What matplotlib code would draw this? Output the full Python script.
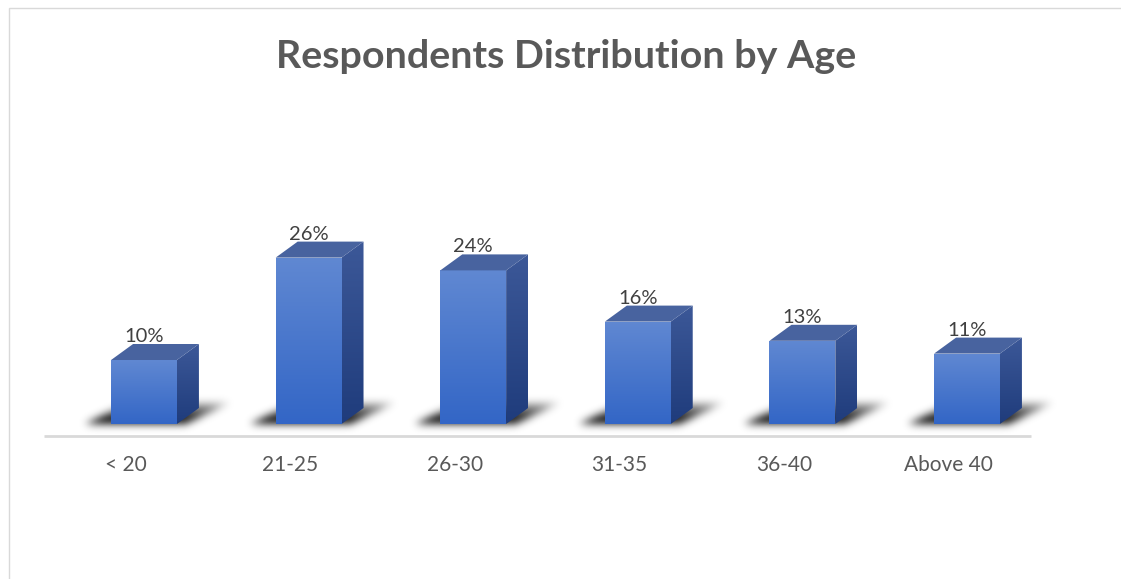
import matplotlib
matplotlib.use('Agg')
import matplotlib.pyplot as plt
import numpy as np
from matplotlib.patches import Polygon, Rectangle

plt.rcParams['font.family'] = ['Lato', 'DejaVu Sans']

# ── data ────────────────────────────────────────────────
CATS   = ["< 20", "21-25", "26-30", "31-35", "36-40", "Above 40"]
VALUES = [10, 26, 24, 16, 13, 11]
LABELS = [f"{v}%" for v in VALUES]

W, H, DPI = 1121, 579, 100
fig = plt.figure(figsize=(W / DPI, H / DPI), dpi=DPI)

# axes placed so one category = ~164.6 px, 1% = ~6.4 px
XLIM = (-0.8, 5.6)
YLIM = (-8, 30)
PX_X = 164.6
PX_Y = 6.4
left_px = 144 + XLIM[0] * PX_X
right_px = 144 + XLIM[1] * PX_X
bot_px = 424 - YLIM[0] * PX_Y
top_px = 424 - YLIM[1] * PX_Y
ax = fig.add_axes([left_px / W, 1 - bot_px / H,
                   (right_px - left_px) / W, (bot_px - top_px) / H])
ax.set_xlim(*XLIM)
ax.set_ylim(*YLIM)
ax.axis('off')

bw = 0.40                 # front face width
dx = 22 / PX_X            # depth offset (x)
dy = 16 / PX_Y            # depth offset (y)


def gauss_blur(a, sigma):
    r = int(3 * sigma)
    k = np.exp(-0.5 * (np.arange(-r, r + 1) / sigma) ** 2)
    k /= k.sum()
    a = np.apply_along_axis(lambda m: np.convolve(m, k, mode='same'), 0, a)
    a = np.apply_along_axis(lambda m: np.convolve(m, k, mode='same'), 1, a)
    return a


def grad_fill(poly, c_top, c_bot, y0, y1):
    ax.add_patch(poly)
    poly.set_visible(False)
    g = np.linspace(0, 1, 128)[:, None, None]
    c_top = np.array(matplotlib.colors.to_rgb(c_top))
    c_bot = np.array(matplotlib.colors.to_rgb(c_bot))
    img = c_top[None, None, :] * (1 - g) + c_bot[None, None, :] * g
    xs = poly.get_xy()[:, 0]
    im = ax.imshow(img, extent=(xs.min(), xs.max(), y0, y1), origin='upper',
                   aspect='auto', zorder=3, interpolation='bilinear')
    im.set_clip_path(poly)


def floor_shadow(x0, x1):
    # blurred skewed footprint on the floor, in pixel-sized cells
    sx0, sx1 = x0 - 0.35, x1 + 0.6
    sy0, sy1 = -1.5, 5.5
    nx = int((sx1 - sx0) * PX_X)
    ny = int((sy1 - sy0) * PX_Y)
    xs = np.linspace(sx0, sx1, nx)
    ys = np.linspace(sy1, sy0, ny)
    X, Y = np.meshgrid(xs, ys)
    h = 3.5
    t = Y / h
    lo = x0 - 0.16 + 0.28 * t
    hi = x1 + 0.05 + 0.28 * t
    inside = (t >= 0) & (t <= 1) & (X >= lo) & (X <= hi)
    a = np.where(inside, 1.0 * (1 - t) ** 0.6, 0.0)
    a = gauss_blur(a, 4)
    rgba = np.zeros((ny, nx, 4))
    rgba[..., 3] = np.clip(a * 1.1, 0, 0.95)
    ax.imshow(rgba, extent=(sx0, sx1, sy0, sy1), origin='upper',
              aspect='auto', zorder=2, interpolation='bilinear')


for i, v in enumerate(VALUES):
    x0, x1 = i - bw / 2, i + bw / 2
    floor_shadow(x0, x1)
    # front face
    front = Polygon([(x0, 0), (x1, 0), (x1, v), (x0, v)], closed=True)
    grad_fill(front, '#6088D2', '#3366C6', 0, v)
    # side face
    side = Polygon([(x1, 0), (x1 + dx, dy), (x1 + dx, v + dy), (x1, v)], closed=True)
    grad_fill(side, '#3C5898', '#1F3C7C', 0, v + dy)
    # top face
    top = Polygon([(x0, v), (x1, v), (x1 + dx, v + dy), (x0 + dx, v + dy)],
                  closed=True, facecolor='#48639F', edgecolor='none', zorder=4)
    ax.add_patch(top)
    ax.text(i, v + dy + 0.3, LABELS[i], ha='center', va='baseline',
            fontsize=14.5, color='#404040', zorder=5)
    ax.text(i - 0.11, -6.4, CATS[i], ha='center', va='center',
            fontsize=15, color='#595959', zorder=5)

# floor line
ax.plot([-0.607, 5.39], [-1.9, -1.9], color='#D9D9D9', lw=2, zorder=1,
        solid_capstyle='butt')

fig.text(0.5054, 1 - 57 / H, 'Respondents Distribution by Age', ha='center',
         va='center', fontsize=28.4, fontweight='bold', color='#595959')

# chart border
fig.add_artist(Rectangle((9 / W, -0.1), 1.2, 1 - 8 / H + 0.1,
                         transform=fig.transFigure, fill=False,
                         edgecolor='#D9D9D9', lw=1))

fig.savefig('out.png', dpi=DPI, facecolor='white')
